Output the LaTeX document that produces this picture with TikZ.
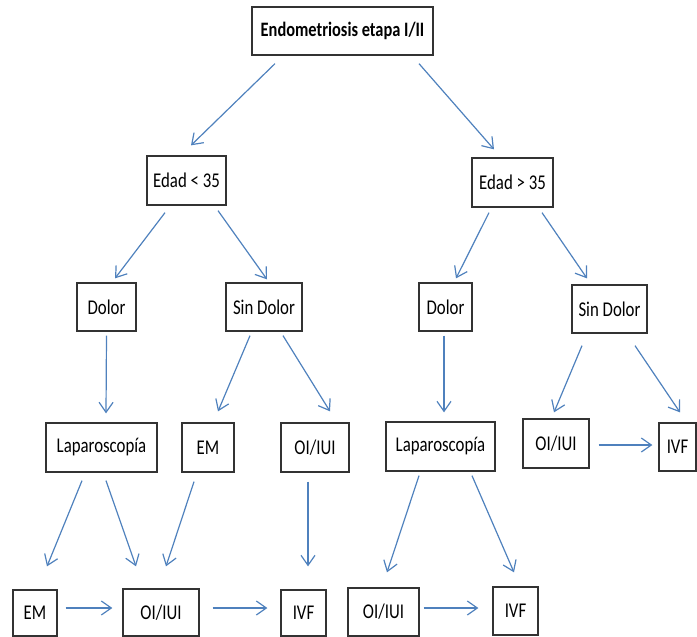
\documentclass[tikz,border=0pt]{standalone}
\usepackage{fontspec}
\setmainfont{Carlito}[FakeStretch=0.8]
\usetikzlibrary{arrows.meta}
\definecolor{arrblue}{RGB}{79,129,189}
\tikzset{
  box/.style={draw=black!80, line width=1.3pt, fill=white, inner sep=0pt,
    font=\fontsize{21}{25}\selectfont},
  arr/.style={draw=arrblue, line width=1.2pt, -{Straight Barb[length=10pt,width=14pt]}}
}
\begin{document}
\begin{tikzpicture}[x=1pt,y=-1pt]
\useasboundingbox (0,0) rectangle (697,637);
% level 0
\node[box, minimum width=181pt, minimum height=48pt, font=\bfseries\fontsize{20.5}{24}\selectfont] (top) at (342.5,31) {Endometriosis etapa I/II};
% level 1
\node[box, minimum width=79pt, minimum height=49pt] (e35) at (186.5,180.5) {Edad < 35};
\node[box, minimum width=81pt, minimum height=49pt] (g35) at (512.5,182.5) {Edad > 35};
% level 2
\node[box, minimum width=59pt, minimum height=48pt] (dolL) at (106.5,307) {Dolor};
\node[box, minimum width=76pt, minimum height=48pt] (sinL) at (264,307) {Sin Dolor};
\node[box, minimum width=53pt, minimum height=48pt] (dolR) at (445.5,307) {Dolor};
\node[box, minimum width=75pt, minimum height=48pt] (sinR) at (609.5,309) {Sin Dolor};
% level 3
\node[box, minimum width=111pt, minimum height=49pt] (lapL) at (101.5,447.5) {Laparoscopía};
\node[box, minimum width=52pt, minimum height=49pt] (emM) at (208,447.5) {EM};
\node[box, minimum width=68pt, minimum height=49pt] (oiM) at (315,447.5) {OI/IUI};
\node[box, minimum width=109pt, minimum height=49pt] (lapR) at (440.5,446.5) {Laparoscopía};
\node[box, minimum width=66pt, minimum height=49pt] (oiR) at (556,443.5) {OI/IUI};
\node[box, minimum width=37pt, minimum height=48pt] (ivfR) at (677.5,447) {IVF};
% level 4
\node[box, minimum width=44pt, minimum height=46pt] (emB) at (35,613) {EM};
\node[box, minimum width=76pt, minimum height=47pt] (oiB) at (161,612.5) {OI/IUI};
\node[box, minimum width=45pt, minimum height=46pt] (ivfB) at (303.5,613) {IVF};
\node[box, minimum width=71pt, minimum height=48pt] (oiB2) at (383.5,612) {OI/IUI};
\node[box, minimum width=45pt, minimum height=48pt] (ivfB2) at (515.5,611) {IVF};
% arrows
\draw[arr] ([shift={(-67.5,8)}]top.south) -- ([shift={(4.5,-10)}]e35.north);
\draw[arr] ([shift={(76.5,8)}]top.south) -- ([shift={(-18.5,-8)}]g35.north);
\draw[arr] ([shift={(-21.5,7)}]e35.south) -- ([shift={(8.5,-4)}]dolL.north);
\draw[arr] ([shift={(31.5,5)}]e35.south) -- ([shift={(3,-3)}]sinL.north);
\draw[arr] ([shift={(-23.5,5)}]g35.south) -- ([shift={(10.5,-4)}]dolR.north);
\draw[arr] ([shift={(29.5,5)}]g35.south) -- ([shift={(-22.5,-6)}]sinR.north);
\draw[arr] ([shift={(0,4)}]dolL.south) -- ([shift={(4.5,-9)}]lapL.north);
\draw[arr] ([shift={(-14,4)}]sinL.south) -- ([shift={(10,-11)}]emM.north);
\draw[arr] ([shift={(19,4)}]sinL.south) -- ([shift={(15,-11)}]oiM.north);
\draw[arr] ([shift={(-1.5,4)}]dolR.south) -- ([shift={(3.5,-9)}]lapR.north);
\draw[arr] ([shift={(-27.5,12)}]sinR.south) -- ([shift={(-2,-6)}]oiR.north);
\draw[arr] ([shift={(25.5,12)}]sinR.south) -- ([shift={(2.5,-10)}]ivfR.north);
\draw[arr] ([shift={(9,1.5)}]oiR.east) -- ([shift={(-6,-2)}]ivfR.west);
\draw[arr] ([shift={(-19.5,8)}]lapL.south) -- ([shift={(12,-23)}]emB.north);
\draw[arr] ([shift={(4.5,8)}]lapL.south) -- ([shift={(-25,-22)}]oiB.north);
\draw[arr] ([shift={(-14,9)}]emM.south) -- ([shift={(5,-22)}]oiB.north);
\draw[arr] ([shift={(-7,9)}]oiM.south) -- ([shift={(4.5,-23)}]ivfB.north);
\draw[arr] ([shift={(-21.5,4)}]lapR.south) -- ([shift={(3.5,-15)}]oiB2.north);
\draw[arr] ([shift={(31.5,4)}]lapR.south) -- ([shift={(-1.5,-14)}]ivfB2.north);
\draw[arr] ([shift={(8,-5)}]emB.east) -- ([shift={(-10,-4.5)}]oiB.west);
\draw[arr] ([shift={(13,-4.5)}]oiB.east) -- ([shift={(-13,-5)}]ivfB.west);
\draw[arr] ([shift={(4,-4)}]oiB2.east) -- ([shift={(-14,-3)}]ivfB2.west);
\end{tikzpicture}
\end{document}
